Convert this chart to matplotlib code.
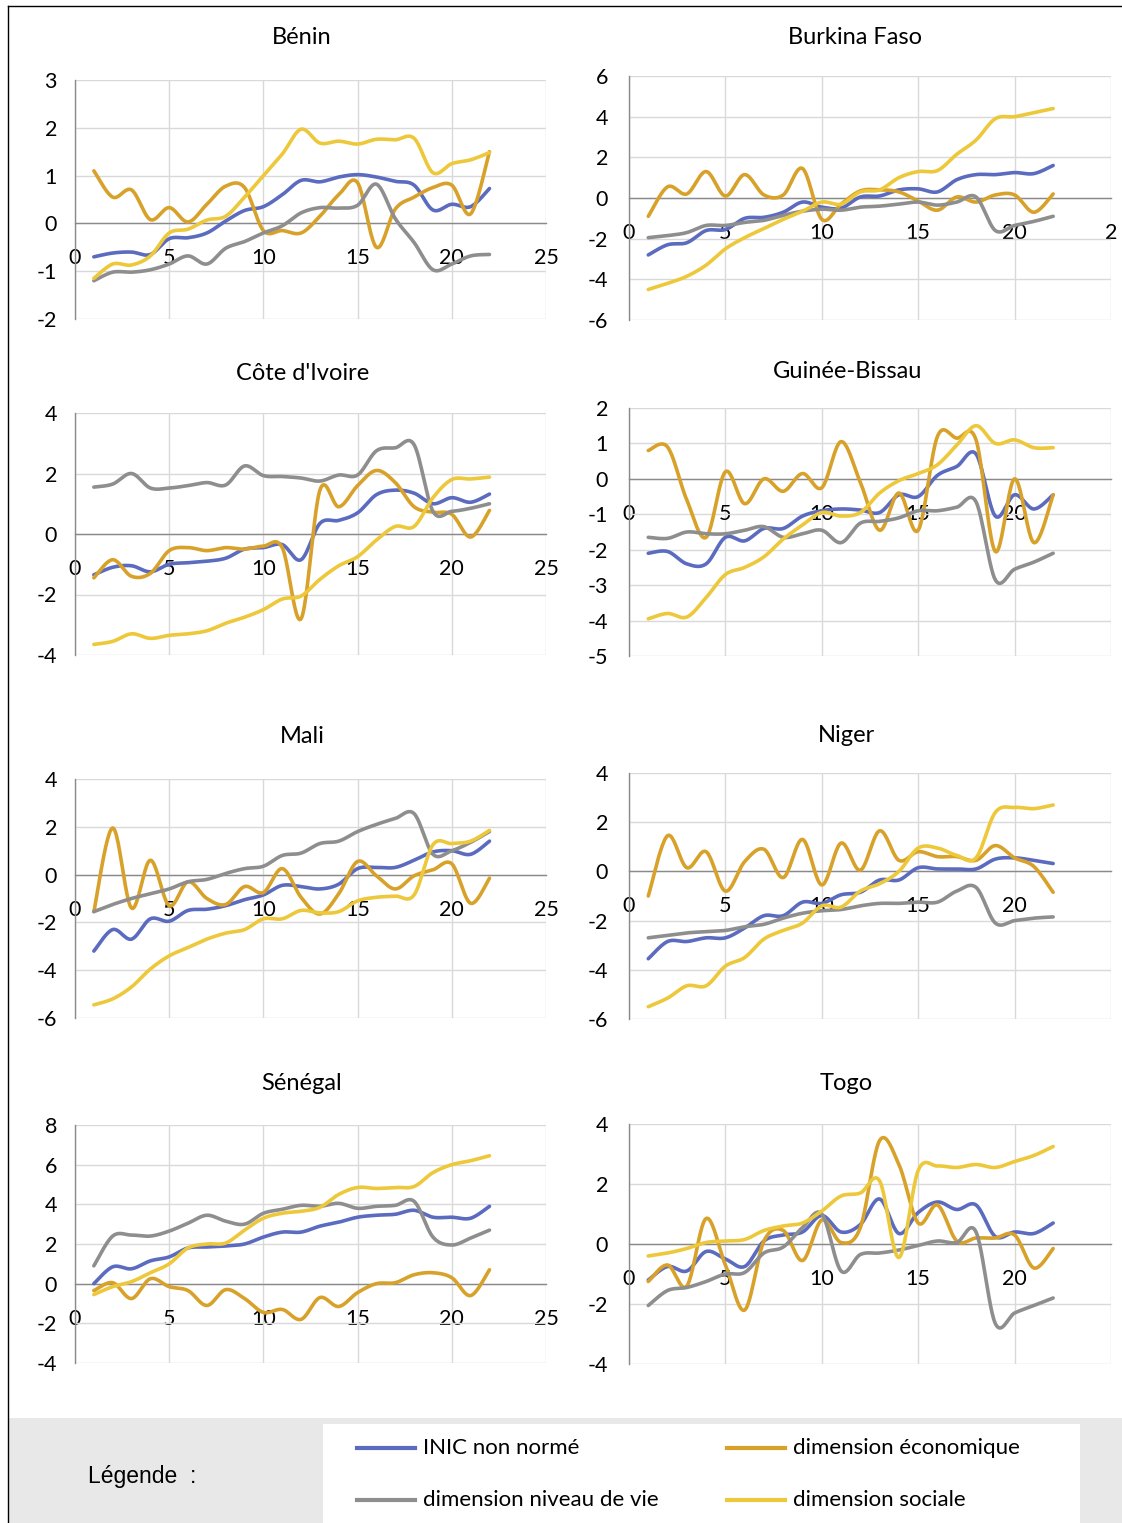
import numpy as np
import matplotlib
matplotlib.use("Agg")
import matplotlib.pyplot as plt
from matplotlib.lines import Line2D
from matplotlib.patches import Rectangle

# ---------------- data ----------------
years = list(range(1, 23))
series_names = ["INIC non normé", "dimension économique",
                "dimension niveau de vie", "dimension sociale"]
series_colors = ["#5B6BBF", "#D8A22A", "#8E8E8E", "#EDC83A"]

benin_inic = [-0.70, -0.62, -0.60, -0.65, -0.32, -0.30, -0.20, 0.05, 0.27, 0.35, 0.60,
              0.90, 0.87, 0.97, 1.02, 0.97, 0.88, 0.80, 0.28, 0.40, 0.35, 0.73]
benin_eco = [1.10, 0.55, 0.70, 0.08, 0.33, 0.03, 0.40, 0.78, 0.75, -0.15, -0.15,
             -0.20, 0.15, 0.60, 0.85, -0.50, 0.30, 0.55, 0.75, 0.80, 0.20, 1.50]
benin_niv = [-1.20, -1.02, -1.02, -0.97, -0.85, -0.68, -0.85, -0.52, -0.38, -0.20, -0.05,
             0.22, 0.33, 0.32, 0.38, 0.82, 0.10, -0.40, -0.97, -0.85, -0.68, -0.65]
benin_soc = [-1.15, -0.85, -0.87, -0.68, -0.20, -0.12, 0.07, 0.15, 0.55, 1.00, 1.45,
             1.97, 1.68, 1.72, 1.66, 1.76, 1.75, 1.78, 1.06, 1.25, 1.33, 1.48]

burkina_inic = [-2.80, -2.30, -2.20, -1.60, -1.55, -1.00, -0.95, -0.70, -0.20, -0.45, -0.50,
                0.05, 0.10, 0.40, 0.45, 0.30, 0.90, 1.15, 1.15, 1.25, 1.20, 1.60]
burkina_eco = [-0.90, 0.55, 0.20, 1.30, 0.10, 1.15, 0.15, 0.15, 1.45, -1.05, -0.30,
               0.35, 0.40, 0.30, -0.15, -0.60, 0.05, -0.20, 0.15, 0.15, -0.70, 0.20]
burkina_niv = [-1.95, -1.85, -1.70, -1.35, -1.35, -1.20, -1.10, -0.85, -0.65, -0.55, -0.60,
               -0.45, -0.40, -0.30, -0.20, -0.35, -0.20, 0.05, -1.60, -1.35, -1.15, -0.90]
burkina_soc = [-4.50, -4.20, -3.85, -3.30, -2.50, -1.95, -1.50, -1.05, -0.65, -0.20, -0.30,
               0.30, 0.40, 1.00, 1.30, 1.35, 2.15, 2.85, 3.90, 4.00, 4.20, 4.40]

ci_inic = [-1.35, -1.10, -1.05, -1.25, -1.00, -0.95, -0.90, -0.80, -0.50, -0.45, -0.35,
           -0.85, 0.35, 0.45, 0.70, 1.30, 1.45, 1.35, 1.00, 1.20, 1.05, 1.32]
ci_eco = [-1.45, -0.85, -1.40, -1.30, -0.55, -0.45, -0.55, -0.45, -0.50, -0.40, -0.45,
          -2.80, 1.45, 0.90, 1.60, 2.10, 1.70, 0.90, 0.72, 0.65, -0.10, 0.78]
ci_niv = [1.55, 1.65, 2.00, 1.52, 1.52, 1.60, 1.70, 1.62, 2.25, 1.93, 1.90,
          1.85, 1.75, 1.95, 1.95, 2.75, 2.85, 2.95, 0.75, 0.75, 0.85, 1.00]
ci_soc = [-3.65, -3.55, -3.30, -3.45, -3.35, -3.30, -3.20, -2.95, -2.75, -2.50, -2.15,
          -2.05, -1.50, -1.05, -0.75, -0.20, 0.25, 0.25, 1.20, 1.80, 1.82, 1.88]

gb_inic = [-2.10, -2.05, -2.40, -2.40, -1.65, -1.75, -1.40, -1.40, -1.05, -0.90, -0.85,
           -0.88, -0.95, -0.45, -0.50, 0.10, 0.35, 0.70, -1.05, -0.45, -0.85, -0.45]
gb_eco = [0.80, 0.90, -0.60, -1.65, 0.20, -0.70, 0.00, -0.35, 0.15, -0.25, 1.05,
          -0.10, -1.45, -0.40, -1.45, 1.20, 1.15, 1.10, -2.05, 0.00, -1.80, -0.45]
gb_niv = [-1.65, -1.68, -1.50, -1.55, -1.55, -1.45, -1.35, -1.65, -1.55, -1.45, -1.80,
          -1.25, -1.20, -1.10, -0.90, -0.90, -0.80, -0.65, -2.85, -2.55, -2.35, -2.10]
gb_soc = [-3.95, -3.80, -3.90, -3.35, -2.70, -2.50, -2.20, -1.70, -1.30, -0.95, -1.05,
          -0.95, -0.40, -0.05, 0.15, 0.40, 0.95, 1.50, 1.00, 1.10, 0.88, 0.88]

mali_inic = [-3.20, -2.30, -2.70, -1.85, -1.95, -1.50, -1.45, -1.30, -1.05, -0.85, -0.45,
             -0.50, -0.60, -0.40, 0.25, 0.30, 0.30, 0.60, 0.95, 1.00, 0.85, 1.40]
mali_eco = [-1.55, 1.95, -1.40, 0.60, -1.30, -0.30, -1.00, -1.25, -0.50, -0.75, 0.25,
            -0.95, -1.65, -0.80, 0.55, -0.05, -0.60, -0.05, 0.20, 0.45, -1.20, -0.15]
mali_niv = [-1.55, -1.25, -1.00, -0.80, -0.60, -0.30, -0.20, 0.05, 0.25, 0.35, 0.80,
            0.90, 1.30, 1.40, 1.80, 2.10, 2.35, 2.55, 0.85, 1.00, 1.35, 1.80]
mali_soc = [-5.45, -5.20, -4.70, -3.95, -3.40, -3.05, -2.70, -2.45, -2.30, -1.85, -1.85,
            -1.50, -1.60, -1.55, -1.10, -0.95, -0.90, -0.85, 1.25, 1.30, 1.40, 1.85]

niger_inic = [-3.55, -2.85, -2.85, -2.70, -2.70, -2.30, -1.80, -1.80, -1.25, -1.30, -0.95,
              -0.85, -0.35, -0.35, 0.15, 0.10, 0.10, 0.10, 0.50, 0.55, 0.45, 0.32]
niger_eco = [-1.00, 1.45, 0.15, 0.80, -0.80, 0.40, 0.90, -0.25, 1.30, -0.55, 1.15,
             0.05, 1.65, 0.45, 0.80, 0.60, 0.60, 0.45, 1.05, 0.55, 0.20, -0.85]
niger_niv = [-2.70, -2.60, -2.50, -2.45, -2.40, -2.25, -2.15, -1.90, -1.70, -1.60, -1.55,
             -1.40, -1.30, -1.30, -1.25, -1.25, -0.80, -0.65, -2.10, -2.00, -1.90, -1.85]
niger_soc = [-5.50, -5.15, -4.65, -4.65, -3.85, -3.50, -2.75, -2.40, -2.10, -1.40, -1.45,
             -0.80, -0.50, 0.00, 0.95, 0.95, 0.65, 0.55, 2.40, 2.60, 2.55, 2.70]

senegal_inic = [0.00, 0.85, 0.75, 1.15, 1.35, 1.80, 1.85, 1.90, 2.00, 2.35, 2.60,
                2.60, 2.90, 3.10, 3.35, 3.45, 3.50, 3.70, 3.35, 3.35, 3.30, 3.90]
senegal_eco = [-0.35, 0.05, -0.75, 0.25, -0.15, -0.35, -1.10, -0.30, -0.75, -1.45, -1.30,
               -1.80, -0.70, -1.15, -0.45, 0.00, 0.05, 0.45, 0.55, 0.30, -0.60, 0.70]
senegal_niv = [0.90, 2.40, 2.45, 2.40, 2.65, 3.05, 3.45, 3.15, 3.00, 3.55, 3.75,
               3.95, 3.90, 4.05, 3.80, 3.90, 3.95, 4.15, 2.35, 1.95, 2.30, 2.70]
senegal_soc = [-0.55, -0.15, 0.10, 0.55, 1.00, 1.80, 2.00, 2.05, 2.70, 3.30, 3.55,
               3.65, 3.85, 4.50, 4.85, 4.80, 4.85, 4.90, 5.60, 6.00, 6.20, 6.45]

togo_inic = [-1.20, -0.75, -0.90, -0.25, -0.50, -0.75, 0.10, 0.30, 0.40, 0.95, 0.40,
             0.65, 1.50, 0.35, 1.05, 1.40, 1.15, 1.30, 0.25, 0.40, 0.35, 0.70]
togo_eco = [-1.25, -0.70, -1.40, 0.85, -0.70, -2.20, 0.10, 0.45, -0.55, 0.80, 0.05,
            0.55, 3.45, 2.65, 0.70, 1.30, 0.10, 0.20, 0.20, 0.30, -0.80, -0.15]
togo_niv = [-2.05, -1.55, -1.45, -1.25, -1.00, -0.95, -0.30, -0.10, 0.55, 1.00, -0.90,
            -0.35, -0.30, -0.20, -0.05, 0.10, 0.05, 0.40, -2.65, -2.30, -2.05, -1.80]
togo_soc = [-0.40, -0.30, -0.15, 0.05, 0.10, 0.15, 0.45, 0.60, 0.70, 1.10, 1.60,
            1.70, 2.10, -0.45, 2.45, 2.60, 2.55, 2.65, 2.55, 2.75, 2.95, 3.25]

countries = ["Bénin", "Burkina Faso", "Côte d'Ivoire", "Guinée-Bissau",
             "Mali", "Niger", "Sénégal", "Togo"]
country_series = [
    [benin_inic, benin_eco, benin_niv, benin_soc],
    [burkina_inic, burkina_eco, burkina_niv, burkina_soc],
    [ci_inic, ci_eco, ci_niv, ci_soc],
    [gb_inic, gb_eco, gb_niv, gb_soc],
    [mali_inic, mali_eco, mali_niv, mali_soc],
    [niger_inic, niger_eco, niger_niv, niger_soc],
    [senegal_inic, senegal_eco, senegal_niv, senegal_soc],
    [togo_inic, togo_eco, togo_niv, togo_soc],
]
y_limits = [(-2, 3, 1), (-6, 6, 2), (-4, 4, 2), (-5, 2, 1),
            (-6, 4, 2), (-6, 4, 2), (-4, 8, 2), (-4, 4, 2)]
x_ticks = [0, 5, 10, 15, 20, 25]
x_labels_left = ["0", "5", "10", "15", "20", "25"]
x_labels_right = ["0", "5", "10", "15", "20", ""]
x_labels_burkina = ["0", "5", "10", "15", "20", "2"]


# ---------------- helpers ----------------
def smooth_curve(x, y, n=24):
    """Excel-like smoothed line (cubic Bezier through the points)."""
    pts = np.column_stack([np.asarray(x, float), np.asarray(y, float)])
    P = np.vstack([pts[0], pts, pts[-1]])
    t = np.linspace(0, 1, n, endpoint=False)[:, None]
    segs = []
    for i in range(1, len(P) - 2):
        p0, p1, p2, p3 = P[i - 1], P[i], P[i + 1], P[i + 2]
        c1 = p1 + (p2 - p0) / 6.0
        c2 = p2 - (p3 - p1) / 6.0
        segs.append((1 - t) ** 3 * p1 + 3 * (1 - t) ** 2 * t * c1
                    + 3 * (1 - t) * t ** 2 * c2 + t ** 3 * p2)
    segs.append(pts[-1:])
    c = np.vstack(segs)
    return c[:, 0], c[:, 1]


W, H = 1122, 1523
FONT = "Lato"
plt.rcParams["font.family"] = [FONT, "DejaVu Sans"]
plt.rcParams["axes.unicode_minus"] = False

fig = plt.figure(figsize=(W / 100, H / 100), dpi=100)
fig.patch.set_facecolor("white")

# panel boxes in pixels: (left, top, right, bottom)
boxes = [
    (75, 80, 546, 319), (629, 76, 1111, 320),
    (75, 413, 546, 655), (629, 408, 1111, 656),
    (75, 779, 546, 1018), (629, 773, 1111, 1019),
    (75, 1125, 546, 1363), (629, 1124, 1111, 1364),
]
title_pos = [(302, 38), (855, 38), (303, 373), (848, 372),
             (302, 737), (847, 736), (302, 1083), (846, 1083)]

for k, (name, series, (ymin, ymax, ystep), box) in enumerate(
        zip(countries, country_series, y_limits, boxes)):
    l, t, r, b = box
    ax = fig.add_axes([l / W, 1 - b / H, (r - l) / W, (b - t) / H])
    ax.set_xlim(0, 25)
    ax.set_ylim(ymin, ymax)
    ax.set_yticks(np.arange(ymin, ymax + 0.001, ystep))
    ax.set_xticks(x_ticks)
    if k % 2 == 0:
        ax.set_xticklabels(x_labels_left)
    elif k == 1:
        ax.set_xticklabels(x_labels_burkina)
    else:
        ax.set_xticklabels(x_labels_right)
    ax.grid(True, color="#D9D9D9", linewidth=1.0)
    ax.set_axisbelow(True)
    for s in ["top", "right"]:
        ax.spines[s].set_visible(False)
    ax.spines["bottom"].set_position(("data", 0))
    ax.spines["bottom"].set_color("#8A8A8A")
    ax.spines["bottom"].set_linewidth(1.0)
    ax.spines["left"].set_color("#8A8A8A")
    ax.spines["left"].set_linewidth(1.0)
    ax.tick_params(axis="both", length=0, labelsize=15.5, colors="black")
    ax.tick_params(axis="x", pad=18)
    ax.tick_params(axis="y", pad=13 if k % 2 == 0 else 15)
    for vals, col in zip(series, series_colors):
        xs, ys = smooth_curve(years, vals)
        ax.plot(xs, ys, color=col, linewidth=2.6, solid_capstyle="round",
                solid_joinstyle="round", zorder=3)
    fig.text(title_pos[k][0] / W, 1 - title_pos[k][1] / H, name,
             ha="center", va="center", fontsize=17)

# ---------------- frame & legend band ----------------
fig.add_artist(Line2D([8 / W, 8 / W], [0, 1 - 6 / H], color="black",
                      linewidth=1.0, transform=fig.transFigure))
fig.add_artist(Line2D([8 / W, 1], [1 - 6 / H, 1 - 6 / H], color="black",
                      linewidth=1.0, transform=fig.transFigure))
fig.add_artist(Rectangle((9 / W, 0), 1 - 9 / W, (1523 - 1418) / H,
                         transform=fig.transFigure, facecolor="#E8E8E8",
                         edgecolor="none", zorder=0))
fig.add_artist(Rectangle((323 / W, 0), (1080 - 323) / W, (1523 - 1424) / H,
                         transform=fig.transFigure, facecolor="white",
                         edgecolor="none", zorder=1))
fig.text(88 / W, 1 - 1477 / H, "Légende  :", ha="left", va="center",
         fontsize=16.5, family=["Liberation Sans", "DejaVu Sans"], zorder=2)

leg_pos = [(357, 1448), (727, 1448), (357, 1500), (727, 1500)]
for (lx, ly), name, col in zip(leg_pos, series_names, series_colors):
    fig.add_artist(Line2D([lx / W, (lx + 58) / W], [1 - ly / H, 1 - ly / H],
                          color=col, linewidth=3.0, transform=fig.transFigure,
                          zorder=2))
    fig.text((lx + 66) / W, 1 - ly / H, name, ha="left", va="center",
             fontsize=16, zorder=2)

fig.savefig("out.png", dpi=100)
